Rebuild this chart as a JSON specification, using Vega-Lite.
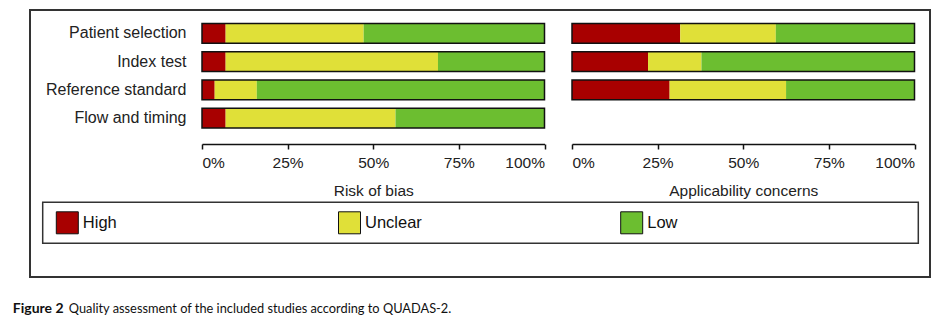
{
  "$schema": "https://vega.github.io/schema/vega-lite/v6.json",
  "width": 900,
  "height": 267,
  "autosize": {"type": "none"},
  "padding": {"left": 30, "top": 10, "right": 18, "bottom": 46},
  "background": "white",
  "config": {
    "view": {"stroke": "#333", "strokeWidth": 2},
    "font": "Liberation Sans",
    "axis": {"labelFont": "Liberation Sans", "titleFont": "Liberation Sans", "labelColor": "#222", "titleColor": "#222", "titleFontWeight": "normal", "grid": false, "domainColor": "#111", "tickColor": "#111"}
  },
  "datasets": {
    "rob": [
      {"item": "Patient selection", "judgement": "High", "share": 0.069, "rank": 1},
      {"item": "Patient selection", "judgement": "Unclear", "share": 0.403, "rank": 2},
      {"item": "Patient selection", "judgement": "Low", "share": 0.528, "rank": 3},
      {"item": "Index test", "judgement": "High", "share": 0.069, "rank": 1},
      {"item": "Index test", "judgement": "Unclear", "share": 0.620, "rank": 2},
      {"item": "Index test", "judgement": "Low", "share": 0.311, "rank": 3},
      {"item": "Reference standard", "judgement": "High", "share": 0.037, "rank": 1},
      {"item": "Reference standard", "judgement": "Unclear", "share": 0.123, "rank": 2},
      {"item": "Reference standard", "judgement": "Low", "share": 0.840, "rank": 3},
      {"item": "Flow and timing", "judgement": "High", "share": 0.069, "rank": 1},
      {"item": "Flow and timing", "judgement": "Unclear", "share": 0.496, "rank": 2},
      {"item": "Flow and timing", "judgement": "Low", "share": 0.435, "rank": 3}
    ],
    "app": [
      {"item": "Patient selection", "judgement": "High", "share": 0.316, "rank": 1},
      {"item": "Patient selection", "judgement": "Unclear", "share": 0.279, "rank": 2},
      {"item": "Patient selection", "judgement": "Low", "share": 0.405, "rank": 3},
      {"item": "Index test", "judgement": "High", "share": 0.222, "rank": 1},
      {"item": "Index test", "judgement": "Unclear", "share": 0.156, "rank": 2},
      {"item": "Index test", "judgement": "Low", "share": 0.622, "rank": 3},
      {"item": "Reference standard", "judgement": "High", "share": 0.285, "rank": 1},
      {"item": "Reference standard", "judgement": "Unclear", "share": 0.340, "rank": 2},
      {"item": "Reference standard", "judgement": "Low", "share": 0.375, "rank": 3}
    ],
    "box": [{"part": "legend box"}],
    "keys": [{"judgement": "High"}, {"judgement": "Unclear"}, {"judgement": "Low"}]
  },
  "layer": [
    {
      "data": {"name": "rob"},
      "mark": {"type": "bar"},
      "encoding": {
        "y": {"field": "item", "type": "nominal",
          "scale": {"domain": ["Patient selection", "Index test", "Reference standard", "Flow and timing"], "range": [13.5, 118], "paddingInner": 0.3, "paddingOuter": 0},
          "axis": {"orient": "left", "offset": -164, "domain": false, "ticks": false, "labelPadding": 8, "labelFontSize": 16, "title": null}},
        "x": {"field": "share", "type": "quantitative", "stack": "zero",
          "scale": {"domain": [0, 1], "range": [172, 514.5], "nice": false},
          "axis": {"orient": "bottom", "offset": -133, "domain": true, "ticks": true, "values": {"expr": "[0, 0.25, 0.5, 0.75, 1]"}, "format": ".0%", "labelFlush": true, "tickSize": 5, "tickWidth": 1.5, "domainWidth": 1.5, "labelFontSize": 15.5, "labelPadding": 6, "title": "Risk of bias", "titleFontSize": 15.5, "titlePadding": 13}},
        "color": {"field": "judgement", "type": "nominal", "scale": {"domain": ["High", "Unclear", "Low"], "range": ["#a80000", "#e0e038", "#6cbe30"]}, "legend": null},
        "order": {"field": "rank", "type": "quantitative"}
      }
    },
    {
      "data": {"name": "rob"},
      "mark": {"type": "bar", "fillOpacity": 0, "stroke": "#111", "strokeWidth": 1.5},
      "encoding": {
        "y": {"field": "item", "type": "nominal",
          "scale": {"domain": ["Patient selection", "Index test", "Reference standard", "Flow and timing"], "range": [13.5, 118], "paddingInner": 0.3, "paddingOuter": 0},
          "axis": null},
        "x": {"aggregate": "sum", "field": "share", "type": "quantitative",
          "scale": {"domain": [0, 1], "range": [172, 514.5], "nice": false},
          "axis": null}
      }
    },
    {
      "data": {"name": "app"},
      "mark": {"type": "bar"},
      "encoding": {
        "y": {"field": "item", "type": "nominal",
          "scale": {"domain": ["Patient selection", "Index test", "Reference standard", "Flow and timing"], "range": [13.5, 118], "paddingInner": 0.3, "paddingOuter": 0},
          "axis": {"orient": "left", "labels": false, "ticks": false, "domain": false, "title": "Figure 2", "titleAngle": 0, "titleX": -17.7, "titleY": 302, "titleAlign": "left", "titleBaseline": "alphabetic", "titleFont": "Lato", "titleFontSize": 14, "titleFontWeight": "bold", "titleColor": "#111"}},
        "x": {"field": "share", "type": "quantitative", "stack": "zero",
          "scale": {"domain": [0, 1], "range": [542, 884.5], "nice": false},
          "axis": {"orient": "bottom", "offset": -133, "domain": true, "ticks": true, "values": {"expr": "[0, 0.25, 0.5, 0.75, 1]"}, "format": ".0%", "labelFlush": true, "tickSize": 5, "tickWidth": 1.5, "domainWidth": 1.5, "labelFontSize": 15.5, "labelPadding": 6, "title": "Applicability concerns", "titleFontSize": 15.5, "titlePadding": 13}},
        "color": {"field": "judgement", "type": "nominal", "legend": null},
        "order": {"field": "rank", "type": "quantitative"}
      }
    },
    {
      "data": {"name": "app"},
      "mark": {"type": "bar", "fillOpacity": 0, "stroke": "#111", "strokeWidth": 1.5},
      "encoding": {
        "y": {"field": "item", "type": "nominal",
          "scale": {"domain": ["Patient selection", "Index test", "Reference standard", "Flow and timing"], "range": [13.5, 118], "paddingInner": 0.3, "paddingOuter": 0},
          "axis": null},
        "x": {"aggregate": "sum", "field": "share", "type": "quantitative",
          "scale": {"domain": [0, 1], "range": [542, 884.5], "nice": false},
          "axis": null}
      }
    },
    {
      "layer": [
        {
          "data": {"name": "box"},
          "mark": {"type": "rect", "fillOpacity": 0, "stroke": "#333", "strokeWidth": 1.5},
          "encoding": {
            "x": {"datum": 0, "type": "quantitative", "scale": {"domain": [0, 1], "range": [12.7, 888.3], "nice": false, "zero": false},
              "axis": {"orient": "bottom", "labels": false, "ticks": false, "domain": false, "title": "Quality assessment of the included studies according to QUADAS-2.", "titleX": 38.3, "titleY": 35, "titleAlign": "left", "titleBaseline": "alphabetic", "titleFont": "Lato", "titleFontSize": 12.8, "titleFontWeight": "normal", "titleColor": "#111"}},
            "x2": {"datum": 1},
            "y": {"datum": 0, "type": "quantitative", "scale": {"domain": [0, 1], "range": [192.3, 233.3], "nice": false, "zero": false}, "axis": null},
            "y2": {"datum": 1}
          }
        },
        {
          "data": {"name": "keys"},
          "layer": [
            {
              "mark": {"type": "point", "shape": "square", "filled": true, "size": 484, "opacity": 1, "stroke": "#111", "strokeWidth": 1},
              "encoding": {
                "x": {"field": "judgement", "type": "nominal", "scale": {"type": "point", "domain": ["High", "Unclear", "Low"], "range": [37.3, 601.7], "padding": 0}, "axis": null},
                "y": {"datum": 0.5, "type": "quantitative"},
                "color": {"field": "judgement", "type": "nominal", "legend": null}
              }
            },
            {
              "mark": {"type": "text", "align": "left", "baseline": "middle", "dx": 15.5, "fontSize": 16.5, "font": "Liberation Sans", "color": "#111"},
              "encoding": {
                "x": {"field": "judgement", "type": "nominal"},
                "y": {"datum": 0.5, "type": "quantitative"},
                "text": {"field": "judgement"}
              }
            }
          ]
        }
      ],
      "resolve": {"scale": {"x": "independent"}}
    }
  ],
  "resolve": {"scale": {"x": "independent", "y": "independent"}}
}
